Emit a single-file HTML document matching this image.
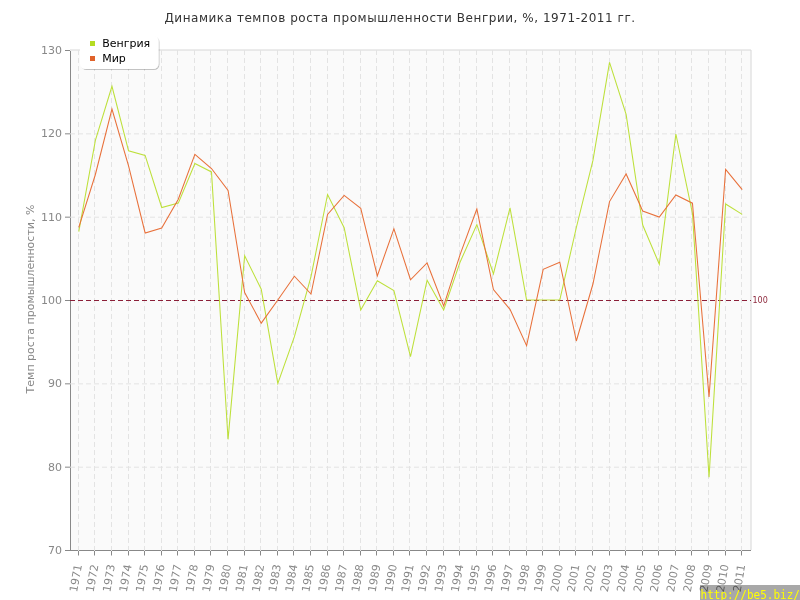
<!DOCTYPE html>
<html><head><meta charset="utf-8"><title>Динамика темпов роста промышленности Венгрии, %, 1971-2011 гг.</title>
<style>
html,body{margin:0;padding:0;background:#fff;width:800px;height:600px;overflow:hidden}
svg{display:block;position:absolute;left:0;top:0}
</style></head><body>
<svg width="800" height="600" viewBox="0 0 800 600">
<defs><filter id="sh" x="-10%" y="-10%" width="130%" height="140%"><feGaussianBlur in="SourceAlpha" stdDeviation="0.7"/><feOffset dx="1" dy="1.2"/><feComponentTransfer><feFuncA type="linear" slope="0.22"/></feComponentTransfer><feMerge><feMergeNode/><feMergeNode in="SourceGraphic"/></feMerge></filter></defs>
<rect x="70" y="50" width="680.5" height="500" fill="#fafafa"/>
<path d="M70,50H751V550" fill="none" stroke="#d6d6d6"/>
<g stroke="#888" fill="none">
<path d="M70.5,51V551M65,550.5H751"/>
<path d="M65,50.5H70M65,133.83H70M65,217.17H70M65,300.5H70M65,383.83H70M65,467.17H70M78.5,551V555.5M94.5,551V555.5M111.5,551V555.5M128.5,551V555.5M144.5,551V555.5M161.5,551V555.5M177.5,551V555.5M194.5,551V555.5M210.5,551V555.5M227.5,551V555.5M244.5,551V555.5M260.5,551V555.5M277.5,551V555.5M293.5,551V555.5M310.5,551V555.5M327.5,551V555.5M343.5,551V555.5M360.5,551V555.5M376.5,551V555.5M393.5,551V555.5M409.5,551V555.5M426.5,551V555.5M443.5,551V555.5M459.5,551V555.5M476.5,551V555.5M492.5,551V555.5M509.5,551V555.5M526.5,551V555.5M542.5,551V555.5M559.5,551V555.5M575.5,551V555.5M592.5,551V555.5M609.5,551V555.5M625.5,551V555.5M642.5,551V555.5M658.5,551V555.5M675.5,551V555.5M691.5,551V555.5M708.5,551V555.5M725.5,551V555.5M741.5,551V555.5"/>
</g>
<g stroke="#e3e3e3" stroke-dasharray="5,3" fill="none">
<path d="M70,133.83H750M70,217.17H750M70,383.83H750M70,467.17H750"/>
<path d="M78.5,50V551M94.5,50V551M111.5,50V551M128.5,50V551M144.5,50V551M161.5,50V551M177.5,50V551M194.5,50V551M210.5,50V551M227.5,50V551M244.5,50V551M260.5,50V551M277.5,50V551M293.5,50V551M310.5,50V551M327.5,50V551M343.5,50V551M360.5,50V551M376.5,50V551M393.5,50V551M409.5,50V551M426.5,50V551M443.5,50V551M459.5,50V551M476.5,50V551M492.5,50V551M509.5,50V551M526.5,50V551M542.5,50V551M559.5,50V551M575.5,50V551M592.5,50V551M609.5,50V551M625.5,50V551M642.5,50V551M658.5,50V551M675.5,50V551M691.5,50V551M708.5,50V551M725.5,50V551M741.5,50V551"/>
</g>
<path d="M70,300.5H751" stroke="#8b1f38" stroke-width="1" stroke-dasharray="5,3" fill="none"/>
<polyline points="78.79,231.67 95.38,140.42 111.96,86.25 128.55,150.83 145.13,155.42 161.72,207.50 178.30,203.08 194.89,163.50 211.48,171.92 228.06,439.33 244.65,255.75 261.23,289.17 277.82,383.33 294.40,336.67 310.99,276.67 327.57,194.50 344.16,227.75 360.74,310.00 377.33,280.83 393.91,290.58 410.50,356.58 427.09,280.17 443.67,310.00 460.26,261.67 476.84,224.58 493.43,274.00 510.01,207.92 526.60,300.00 543.18,300.00 559.77,300.00 576.35,227.50 592.94,160.42 609.52,62.33 626.11,114.42 642.70,225.00 659.28,264.17 675.87,134.00 692.45,213.33 709.04,477.17 725.62,204.00 742.21,214.42" fill="none" stroke="#bde03a" stroke-width="1.05"/>
<polyline points="78.79,227.33 95.38,174.50 111.96,109.00 128.55,165.83 145.13,233.00 161.72,228.00 178.30,199.17 194.89,154.42 211.48,168.50 228.06,190.50 244.65,292.50 261.23,323.17 277.82,300.00 294.40,276.25 310.99,294.00 327.57,214.42 344.16,195.42 360.74,208.33 377.33,275.83 393.91,228.83 410.50,279.75 427.09,263.00 443.67,305.83 460.26,254.17 476.84,209.00 493.43,289.58 510.01,309.33 526.60,345.67 543.18,269.33 559.77,262.17 576.35,341.00 592.94,284.00 609.52,201.58 626.11,174.00 642.70,211.00 659.28,217.00 675.87,195.00 692.45,203.17 709.04,396.92 725.62,169.42 742.21,189.58" fill="none" stroke="#e8703a" stroke-width="1.05"/>
<g font-family="'DejaVu Sans', Verdana, sans-serif">
<text x="752.5" y="303" font-size="8" fill="#8e2a3e">100</text>
<g font-size="11" fill="#888" text-anchor="end">
<text x="62" y="54.00">130</text>
<text x="62" y="137.33">120</text>
<text x="62" y="220.67">110</text>
<text x="62" y="304.00">100</text>
<text x="62" y="387.33">90</text>
<text x="62" y="470.67">80</text>
<text x="62" y="554.00">70</text>
<text transform="translate(81.89,565) rotate(-80)">1971</text>
<text transform="translate(98.48,565) rotate(-80)">1972</text>
<text transform="translate(115.06,565) rotate(-80)">1973</text>
<text transform="translate(131.65,565) rotate(-80)">1974</text>
<text transform="translate(148.23,565) rotate(-80)">1975</text>
<text transform="translate(164.82,565) rotate(-80)">1976</text>
<text transform="translate(181.40,565) rotate(-80)">1977</text>
<text transform="translate(197.99,565) rotate(-80)">1978</text>
<text transform="translate(214.58,565) rotate(-80)">1979</text>
<text transform="translate(231.16,565) rotate(-80)">1980</text>
<text transform="translate(247.75,565) rotate(-80)">1981</text>
<text transform="translate(264.33,565) rotate(-80)">1982</text>
<text transform="translate(280.92,565) rotate(-80)">1983</text>
<text transform="translate(297.50,565) rotate(-80)">1984</text>
<text transform="translate(314.09,565) rotate(-80)">1985</text>
<text transform="translate(330.67,565) rotate(-80)">1986</text>
<text transform="translate(347.26,565) rotate(-80)">1987</text>
<text transform="translate(363.84,565) rotate(-80)">1988</text>
<text transform="translate(380.43,565) rotate(-80)">1989</text>
<text transform="translate(397.01,565) rotate(-80)">1990</text>
<text transform="translate(413.60,565) rotate(-80)">1991</text>
<text transform="translate(430.19,565) rotate(-80)">1992</text>
<text transform="translate(446.77,565) rotate(-80)">1993</text>
<text transform="translate(463.36,565) rotate(-80)">1994</text>
<text transform="translate(479.94,565) rotate(-80)">1995</text>
<text transform="translate(496.53,565) rotate(-80)">1996</text>
<text transform="translate(513.11,565) rotate(-80)">1997</text>
<text transform="translate(529.70,565) rotate(-80)">1998</text>
<text transform="translate(546.28,565) rotate(-80)">1999</text>
<text transform="translate(562.87,565) rotate(-80)">2000</text>
<text transform="translate(579.45,565) rotate(-80)">2001</text>
<text transform="translate(596.04,565) rotate(-80)">2002</text>
<text transform="translate(612.62,565) rotate(-80)">2003</text>
<text transform="translate(629.21,565) rotate(-80)">2004</text>
<text transform="translate(645.80,565) rotate(-80)">2005</text>
<text transform="translate(662.38,565) rotate(-80)">2006</text>
<text transform="translate(678.97,565) rotate(-80)">2007</text>
<text transform="translate(695.55,565) rotate(-80)">2008</text>
<text transform="translate(712.14,565) rotate(-80)">2009</text>
<text transform="translate(728.72,565) rotate(-80)">2010</text>
<text transform="translate(745.31,565) rotate(-80)">2011</text>
</g>
<text transform="translate(33.5,299) rotate(-90)" font-size="11" fill="#888" text-anchor="middle">Темп роста промышленности, %</text>
<text x="400" y="21.5" font-size="12" fill="#333" letter-spacing="0.54" text-anchor="middle">Динамика темпов роста промышленности Венгрии, %, 1971-2011 гг.</text>
<rect x="80" y="35.5" width="78.5" height="33.5" rx="5.5" ry="5.5" fill="#fff" filter="url(#sh)"/>
<rect x="90" y="41" width="5" height="5" fill="#b5dc22"/>
<rect x="90" y="56" width="5" height="5" fill="#e0622a"/>
<text x="102.2" y="47" font-size="11" fill="#000">Венгрия</text>
<text x="102.2" y="62" font-size="11" fill="#000">Мир</text>
</g>
<rect x="700" y="585" width="100" height="15" fill="#000" fill-opacity="0.34"/>
<text transform="translate(700.6,598.7) scale(1,1.16)" font-size="11" fill="#ffff00" font-family="'DejaVu Sans Mono', 'Liberation Mono', monospace">http://be5.biz/</text>
</svg>
</body></html>
